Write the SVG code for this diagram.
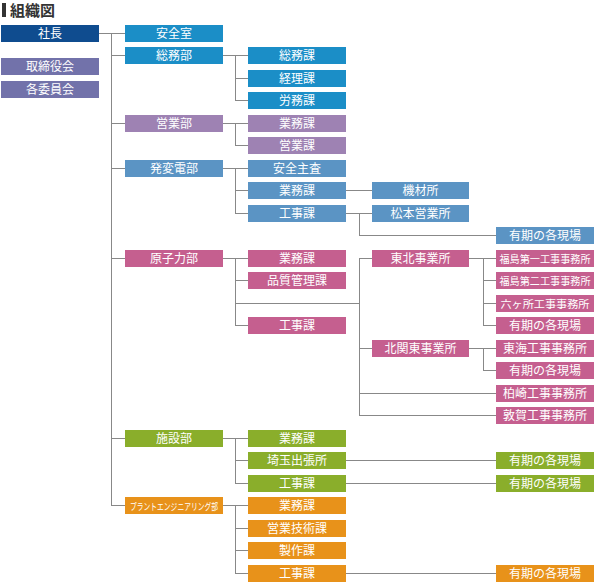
<svg xmlns="http://www.w3.org/2000/svg" width="595" height="583" viewBox="0 0 595 583">
<style>
text{font-family:"Noto Sans CJK JP","Noto Sans",sans-serif;font-size:12px;fill:#fff;text-anchor:middle}
.title{fill:#333;font-weight:bold;font-size:15px;text-anchor:start}
.narrow{font-size:10.5px}
.ceo{fill:#0f4c8f}
.board{fill:#7272aa}
.soumu{fill:#1b8ec7}
.eigyo{fill:#9e82b3}
.hen{fill:#5b94c4}
.gen{fill:#c55f8f}
.shi{fill:#8aae2b}
.pla{fill:#e8921a}
.conn line{stroke:#888;stroke-width:1}
</style>
<rect x="2" y="3" width="4" height="14" fill="#333"/>
<text class="title" x="10" y="16">組織図</text>
<g class="conn">
<line x1="99" y1="33.5" x2="125" y2="33.5"/>
<line x1="111.5" y1="33.5" x2="111.5" y2="506"/>
<line x1="111" y1="55.5" x2="125" y2="55.5"/>
<line x1="111" y1="123.5" x2="125" y2="123.5"/>
<line x1="111" y1="168.5" x2="125" y2="168.5"/>
<line x1="111" y1="258.5" x2="125" y2="258.5"/>
<line x1="111" y1="438.5" x2="125" y2="438.5"/>
<line x1="111" y1="505.5" x2="125" y2="505.5"/>
<line x1="223" y1="55.5" x2="248" y2="55.5"/>
<line x1="235.5" y1="55.5" x2="235.5" y2="100.5"/>
<line x1="235" y1="78.5" x2="248" y2="78.5"/>
<line x1="235" y1="100.5" x2="248" y2="100.5"/>
<line x1="223" y1="123.5" x2="248" y2="123.5"/>
<line x1="235.5" y1="123.5" x2="235.5" y2="145.5"/>
<line x1="235" y1="145.5" x2="248" y2="145.5"/>
<line x1="223" y1="168.5" x2="248" y2="168.5"/>
<line x1="235.5" y1="168.5" x2="235.5" y2="213.5"/>
<line x1="235" y1="190.5" x2="248" y2="190.5"/>
<line x1="235" y1="213.5" x2="248" y2="213.5"/>
<line x1="346" y1="190.5" x2="372" y2="190.5"/>
<line x1="346" y1="213.5" x2="372" y2="213.5"/>
<line x1="359.5" y1="213.5" x2="359.5" y2="235.5"/>
<line x1="359" y1="235.5" x2="496" y2="235.5"/>
<line x1="223" y1="258.5" x2="248" y2="258.5"/>
<line x1="235.5" y1="258.5" x2="235.5" y2="325.5"/>
<line x1="235" y1="280.5" x2="248" y2="280.5"/>
<line x1="235" y1="325.5" x2="248" y2="325.5"/>
<line x1="235" y1="303.5" x2="360" y2="303.5"/>
<line x1="359.5" y1="258.5" x2="359.5" y2="415.5"/>
<line x1="359" y1="258.5" x2="372" y2="258.5"/>
<line x1="359" y1="348.5" x2="372" y2="348.5"/>
<line x1="359" y1="393.5" x2="496" y2="393.5"/>
<line x1="359" y1="415.5" x2="496" y2="415.5"/>
<line x1="469" y1="258.5" x2="496" y2="258.5"/>
<line x1="483.5" y1="258.5" x2="483.5" y2="325.5"/>
<line x1="483" y1="280.5" x2="496" y2="280.5"/>
<line x1="483" y1="303.5" x2="496" y2="303.5"/>
<line x1="483" y1="325.5" x2="496" y2="325.5"/>
<line x1="469" y1="348.5" x2="496" y2="348.5"/>
<line x1="483.5" y1="348.5" x2="483.5" y2="370.5"/>
<line x1="483" y1="370.5" x2="496" y2="370.5"/>
<line x1="223" y1="438.5" x2="248" y2="438.5"/>
<line x1="235.5" y1="438.5" x2="235.5" y2="483.5"/>
<line x1="235" y1="460.5" x2="248" y2="460.5"/>
<line x1="235" y1="483.5" x2="248" y2="483.5"/>
<line x1="346" y1="460.5" x2="496" y2="460.5"/>
<line x1="346" y1="483.5" x2="496" y2="483.5"/>
<line x1="223" y1="505.5" x2="248" y2="505.5"/>
<line x1="235.5" y1="505.5" x2="235.5" y2="573.5"/>
<line x1="235" y1="528.5" x2="248" y2="528.5"/>
<line x1="235" y1="550.5" x2="248" y2="550.5"/>
<line x1="235" y1="573.5" x2="248" y2="573.5"/>
<line x1="346" y1="573.5" x2="496" y2="573.5"/>
</g>
<g id="shacho"><rect class="ceo" x="1" y="25" width="98" height="17"/><text x="50" y="38">社長</text></g>
<g id="torishimariyakukai"><rect class="board" x="1" y="58" width="98" height="17"/><text x="50" y="71">取締役会</text></g>
<g id="iinkai"><rect class="board" x="1" y="81" width="98" height="17"/><text x="50" y="94">各委員会</text></g>

<g id="anzenshitsu"><rect class="soumu" x="125" y="25" width="98" height="17"/><text x="174" y="38">安全室</text></g>
<g id="soumubu"><rect class="soumu" x="125" y="47" width="98" height="17"/><text x="174" y="60">総務部</text></g>
<g id="soumuka"><rect class="soumu" x="248" y="47" width="98" height="17"/><text x="297" y="60">総務課</text></g>
<g id="keirika"><rect class="soumu" x="248" y="70" width="98" height="17"/><text x="297" y="83">経理課</text></g>
<g id="roumuka"><rect class="soumu" x="248" y="92" width="98" height="17"/><text x="297" y="105">労務課</text></g>

<g id="eigyobu"><rect class="eigyo" x="125" y="115" width="98" height="17"/><text x="174" y="128">営業部</text></g>
<g id="eigyo-gyomuka"><rect class="eigyo" x="248" y="115" width="98" height="17"/><text x="297" y="128">業務課</text></g>
<g id="eigyoka"><rect class="eigyo" x="248" y="137" width="98" height="17"/><text x="297" y="150">営業課</text></g>

<g id="hatsuhendenbu"><rect class="hen" x="125" y="160" width="98" height="17"/><text x="174" y="173">発変電部</text></g>
<g id="anzenshusa"><rect class="hen" x="248" y="160" width="98" height="17"/><text x="297" y="173">安全主査</text></g>
<g id="hen-gyomuka"><rect class="hen" x="248" y="182" width="98" height="17"/><text x="297" y="195">業務課</text></g>
<g id="hen-kojika"><rect class="hen" x="248" y="205" width="98" height="17"/><text x="297" y="218">工事課</text></g>
<g id="kizaisho"><rect class="hen" x="372" y="182" width="97" height="17"/><text x="420.5" y="195">機材所</text></g>
<g id="matsumoto"><rect class="hen" x="372" y="205" width="97" height="17"/><text x="420.5" y="218">松本営業所</text></g>
<g id="hen-genba"><rect class="hen" x="496" y="227" width="98" height="17"/><text x="545" y="240">有期の各現場</text></g>

<g id="genshiryokubu"><rect class="gen" x="125" y="250" width="98" height="17"/><text x="174" y="263">原子力部</text></g>
<g id="gen-gyomuka"><rect class="gen" x="248" y="250" width="98" height="17"/><text x="297" y="263">業務課</text></g>
<g id="hinshitsu"><rect class="gen" x="248" y="272" width="98" height="17"/><text x="297" y="285">品質管理課</text></g>
<g id="gen-kojika"><rect class="gen" x="248" y="317" width="98" height="17"/><text x="297" y="330">工事課</text></g>
<g id="tohoku"><rect class="gen" x="372" y="250" width="97" height="17"/><text x="420.5" y="263">東北事業所</text></g>
<g id="kitakanto"><rect class="gen" x="372" y="340" width="97" height="17"/><text x="420.5" y="353">北関東事業所</text></g>
<g id="fukushima1"><rect class="gen" x="496" y="250" width="98" height="17"/><text class="narrow" x="545" y="262.5" textLength="91" lengthAdjust="spacingAndGlyphs">福島第一工事事務所</text></g>
<g id="fukushima2"><rect class="gen" x="496" y="272" width="98" height="17"/><text class="narrow" x="545" y="284.5" textLength="91" lengthAdjust="spacingAndGlyphs">福島第二工事事務所</text></g>
<g id="rokkasho"><rect class="gen" x="496" y="295" width="98" height="17"/><text class="narrow" x="545" y="307.5" textLength="89" lengthAdjust="spacingAndGlyphs">六ヶ所工事事務所</text></g>
<g id="gen-genba1"><rect class="gen" x="496" y="317" width="98" height="17"/><text x="545" y="330">有期の各現場</text></g>
<g id="tokai"><rect class="gen" x="496" y="340" width="98" height="17"/><text x="545" y="353">東海工事事務所</text></g>
<g id="gen-genba2"><rect class="gen" x="496" y="362" width="98" height="17"/><text x="545" y="375">有期の各現場</text></g>
<g id="kashiwazaki"><rect class="gen" x="496" y="385" width="98" height="17"/><text x="545" y="398">柏崎工事事務所</text></g>
<g id="tsuruga"><rect class="gen" x="496" y="407" width="98" height="17"/><text x="545" y="420">敦賀工事事務所</text></g>

<g id="shisetsubu"><rect class="shi" x="125" y="430" width="98" height="17"/><text x="174" y="443">施設部</text></g>
<g id="shi-gyomuka"><rect class="shi" x="248" y="430" width="98" height="17"/><text x="297" y="443">業務課</text></g>
<g id="saitama"><rect class="shi" x="248" y="452" width="98" height="17"/><text x="297" y="465">埼玉出張所</text></g>
<g id="shi-kojika"><rect class="shi" x="248" y="475" width="98" height="17"/><text x="297" y="488">工事課</text></g>
<g id="shi-genba1"><rect class="shi" x="496" y="452" width="98" height="17"/><text x="545" y="465">有期の各現場</text></g>
<g id="shi-genba2"><rect class="shi" x="496" y="475" width="98" height="17"/><text x="545" y="488">有期の各現場</text></g>

<g id="plantbu"><rect class="pla" x="125" y="497" width="98" height="17"/><text x="174" y="509.5" style="font-size:9.5px" textLength="88" lengthAdjust="spacingAndGlyphs">プラントエンジニアリング部</text></g>
<g id="pla-gyomuka"><rect class="pla" x="248" y="497" width="98" height="17"/><text x="297" y="510">業務課</text></g>
<g id="eigyogijutsu"><rect class="pla" x="248" y="520" width="98" height="17"/><text x="297" y="533">営業技術課</text></g>
<g id="seisakuka"><rect class="pla" x="248" y="542" width="98" height="17"/><text x="297" y="555">製作課</text></g>
<g id="pla-kojika"><rect class="pla" x="248" y="565" width="98" height="17"/><text x="297" y="578">工事課</text></g>
<g id="pla-genba"><rect class="pla" x="496" y="565" width="98" height="17"/><text x="545" y="578">有期の各現場</text></g>
</svg>
